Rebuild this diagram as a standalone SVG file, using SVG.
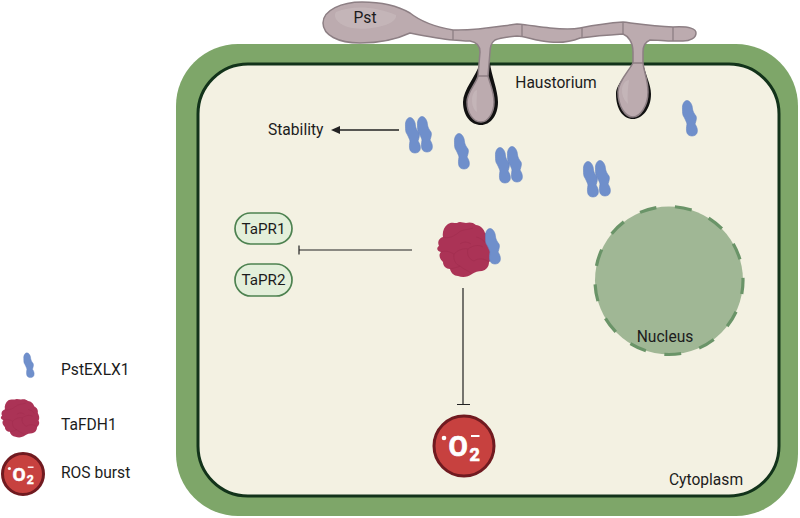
<svg xmlns="http://www.w3.org/2000/svg" width="800" height="518" viewBox="0 0 800 518">
<style>
text{font-family:Roboto,"Liberation Sans",sans-serif;fill:#1c1c1c;font-size:15.600px}
.hy{fill:#bcabaf;stroke:#8d7f84;stroke-width:1.500;stroke-linejoin:round}
.sep{fill:none;stroke:#8d7f84;stroke-width:1.300}
.sheen{fill:#cbbdc0;opacity:.55}
.pr{fill:#6f8fcb;stroke:#6484c2;stroke-width:.6}
.pl{fill:#e3efda;stroke:#4d8250;stroke-width:1.700}
.ln{fill:none;stroke:#222;stroke-width:1.200}
.ro{fill:#c7413f;stroke:#701a20;stroke-width:3}
.ox{fill:#fff;stroke:#fff;stroke-width:.7;font-weight:700}
.b1{fill:#ab3356}
.b2{fill:none;stroke:#952545;stroke-width:.7;opacity:.45}
</style>
<defs>
<path id="prot" d="M-3-17.500C-6-17.500-8-13-7.500-9C-7.500-5-7.500-3-6-1C-4.500 2-3.500 4-3 6C-3.500 9-4 12-3 15C-1.500 19 5.500 19 7 15C8 12 7 9 5 6C6 3 7 0 6-2C4.500-4 3-6 2.500-9C2.500-13 0-17.500-3-17.500Z"/>
<g id="pair">
<use href="#prot" class="pr" transform="translate(-6 1)"/>
<use href="#prot" class="pr" transform="translate(6 0)"/>
</g>
<g id="blob">
<path class="b1" d="M-18-26C-15-28-12-27-9-27C-6-29-3-27 0-27C3-28 7-28 10-25C14-25 18-21 19-17C22-16 25-12 24-8C26-4 27 0 25 3C27 6 26 10 23 12C23 17 20 20 16 21C12 21 9 22 6 24C2 27-3 28-8 26C-12 26-15 23-16 19C-20 19-23 16-23 12C-26 9-28 5-25 2C-29 1-30-2-27-4C-29-8-27-12-23-13C-24-18-22-23-18-26Z"/>
<path class="b2" d="M-23-13C-17-11-12-14-8-17M-8-17C-4-21 2-20 7-22M-25 2C-20 0-16 2-12 4C-8 0-3-2 2-1C6-4 12-6 17-3M2-1C0 5 4 10 8 11C12 8 18 8 23 12M-12 4C-13 10-10 15-6 16C-2 20 2 20 6 24M-16 19C-11 18-8 17-6 16M10-13C14-12 18-10 19-7M-6-6C-2-9 2-8 5-6"/>
</g>
<g id="ros">
<text class="ox" x="-15.500" y="10" style="font-size:28px">O</text>
<circle cx="-20" cy="-8" r="2.300" fill="#fff"/>
<rect x="7" y="-11" width="8.500" height="2" fill="#fff"/>
<text class="ox" x="5.500" y="14.500" style="font-size:18px">2</text>
</g>
</defs>

<g id="cell-wall"><rect x="176" y="44" width="622" height="472" rx="62" fill="#7ea669"/></g>
<g id="cytoplasm"><rect x="198" y="64" width="581" height="432" rx="50" fill="#f3f1e2" stroke="#12331a" stroke-width="3"/></g>

<g id="nucleus">
<circle cx="669" cy="280.500" r="74" fill="#a0b795" stroke="#6a9468" stroke-width="3.200" stroke-dasharray="17 18.770" stroke-dashoffset="3.500"/>
<text x="665" y="341.500" text-anchor="middle">Nucleus</text>
</g>

<g id="pst">
<!-- dark sheaths round the two feeding bulbs -->
<path fill="#111" d="M480 63L490 63C491 74 498 90 498 102C498 116 490 125 481 125C471 125 463 116 463 102C463 90 476 76 480 63Z"/>
<path fill="#111" d="M633 63L643 63C645 74 651 84 651 94C651 109 642 119 633 119C623 119 616 109 616 94C616 82 630 74 633 63Z"/>
<path class="hy" d="M323 23C323 10 342 2 362 2C384 2 398 6 410 13C420 21 436 27 453 30C475 31 495 27 517 24C530 25 538 27 550 28C560 29 570 30 580 28C595 25 608 23 623 22C640 24 655 26 673 27C690 26 696 29 696 33C696 38 690 41 683 41L673 41C665 41 658 40 650 40C645 42 643 46 643 52L643 63C644 72 648 80 648 92C648 106 640 117 633 117C625 117 618 106 618 92C618 82 628 72 633 63L633 52C633 42 628 36 623 34C608 35 595 36 580 38C570 42 560 43 550 42C535 41 525 36 517 36C505 37 497 39 495 40C491 43 490 47 490 52L488 76C490 84 494 92 494 102C494 113 488 122 481 122C473 122 467 113 467 102C467 92 476 84 478 76L480 52C480 46 476 42 470 41C463 41 458 40 453 40C440 39 425 36 410 33C395 40 380 43 360 43C338 43 323 35 323 23Z"/>
<path class="sheen" d="M336 12C352 5 375 6 396 15C398 24 372 31 352 28C340 26 332 18 336 12Z"/>
<path class="sheen" d="M472 100C472 94 475 90 477 90C477 96 476 104 477 112C474 110 472 106 472 100Z"/>
<path class="sheen" d="M622 90C622 84 626 80 629 80C628 88 627 96 628 104C624 100 622 96 622 90Z"/>
<path class="sep" d="M453 30L453 40M522 25L522 37M582 28L582 38M623 22L623 34M673 27L673 41M478 76L488 76M633 63L643 63"/>
<text x="365" y="23" text-anchor="middle">Pst</text>
</g>

<g id="haustorium-label"><text x="556" y="88" text-anchor="middle">Haustorium</text></g>

<g id="connectors">
<path d="M399 130H337" fill="none" stroke="#222" stroke-width="1.500"/><path d="M331 130L340 126V134Z" fill="#222"/>
<path class="ln" d="M412 250H299M299 245.500V254.500"/>
<path class="ln" d="M463 288V404M457 404.500H470"/>
</g>

<g id="stability"><text x="268" y="134.500">Stability</text></g>

<g id="pstexlx1-a"><use href="#pair" transform="translate(419 134)"/></g>
<g id="pstexlx1-b"><use href="#prot" class="pr" transform="translate(462 151)"/></g>
<g id="pstexlx1-c"><use href="#pair" transform="translate(509 164)"/></g>
<g id="pstexlx1-d"><use href="#pair" transform="translate(597 178)"/></g>
<g id="pstexlx1-e"><use href="#prot" class="pr" transform="translate(690 118)"/></g>

<g id="tapr1"><rect class="pl" x="235" y="213" width="57" height="31" rx="15.500"/><text x="263.500" y="234" text-anchor="middle" style="font-size:15.200px">TaPR1</text></g>
<g id="tapr2"><rect class="pl" x="235" y="264" width="57" height="32" rx="16"/><text x="263.500" y="285" text-anchor="middle" style="font-size:15.200px">TaPR2</text></g>

<g id="complex">
<use href="#blob" transform="translate(466 250)"/>
<use href="#prot" class="pr" transform="translate(493 246)"/>
</g>

<g id="ros-burst">
<circle class="ro" cx="464" cy="446" r="30"/>
<use href="#ros" transform="translate(464 446)"/>
</g>

<g id="cytoplasm-label"><text x="706" y="485" text-anchor="middle">Cytoplasm</text></g>

<g id="legend-pstexlx1">
<use href="#prot" class="pr" transform="translate(29 365) scale(.7)"/>
<text x="61" y="374.500">PstEXLX1</text>
</g>
<g id="legend-tafdh1">
<use href="#blob" transform="translate(21 418.500) scale(.7)"/>
<text x="61" y="430">TaFDH1</text>
</g>
<g id="legend-ros">
<circle class="ro" cx="23" cy="474" r="20.500"/>
<use href="#ros" transform="translate(23 474) scale(.68)"/>
<text x="61" y="478">ROS burst</text>
</g>
</svg>
